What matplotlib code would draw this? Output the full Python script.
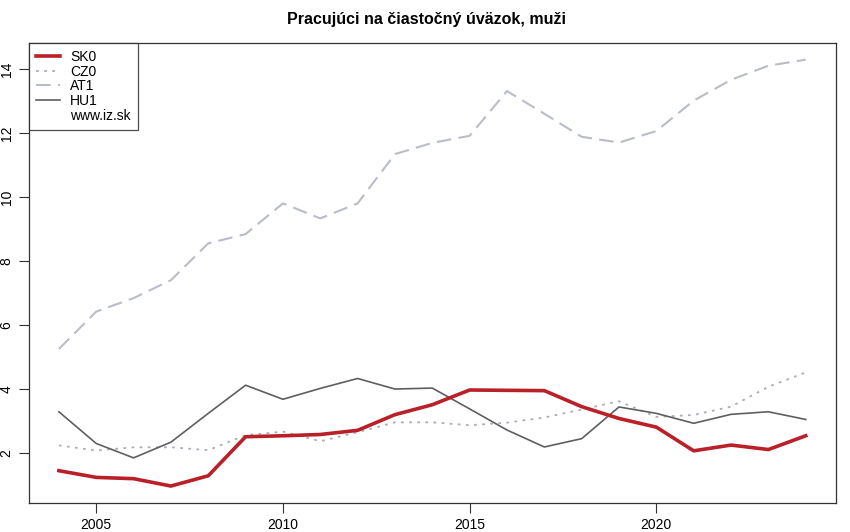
import matplotlib
matplotlib.use("Agg")
import matplotlib.pyplot as plt
from matplotlib.lines import Line2D

plt.rcParams['font.family'] = ['Liberation Sans', 'DejaVu Sans']

years = list(range(2004, 2025))
sk0 = [1.46, 1.25, 1.21, 0.98, 1.30, 2.52, 2.55, 2.59, 2.72, 3.21, 3.52, 3.98, 3.97, 3.96, 3.46, 3.09, 2.82, 2.08, 2.26, 2.12, 2.55]
cz0 = [2.25, 2.09, 2.19, 2.19, 2.10, 2.57, 2.68, 2.38, 2.66, 2.97, 2.97, 2.88, 2.96, 3.12, 3.37, 3.63, 3.14, 3.20, 3.46, 4.08, 4.53]
at1 = [5.26, 6.43, 6.85, 7.41, 8.56, 8.85, 9.81, 9.34, 9.81, 11.35, 11.70, 11.92, 13.32, 12.61, 11.89, 11.71, 12.07, 13.02, 13.67, 14.11, 14.30]
hu1 = [3.30, 2.31, 1.86, 2.35, 3.25, 4.13, 3.69, 4.03, 4.34, 4.01, 4.04, 3.39, 2.73, 2.20, 2.46, 3.45, 3.25, 2.94, 3.22, 3.30, 3.06]
series_names = ["SK0", "CZ0", "AT1", "HU1"]
xticks = [2005, 2010, 2015, 2020]
yticks = [2, 4, 6, 8, 10, 12, 14]
title = "Pracujúci na čiastočný úväzok, muži"
source = "www.iz.sk"

fig = plt.figure(figsize=(8.5, 5.32), dpi=100)
ax = fig.add_axes([29/850, 1-503/532, (835.6-29)/850, (503-43)/532])

ax.plot(years, at1, color="#B9BDC5", lw=1.5, dashes=(7, 3.5), label=series_names[2], zorder=2)
ax.plot(years, cz0, color="#A8AEB8", lw=1.3, dashes=(1.5, 3), label=series_names[1], zorder=3)
ax.plot(years, hu1, color="#5F5F5F", lw=1.2, label=series_names[3], zorder=4)
ax.plot(years, sk0, color="#BA2028", lw=2.6, label=series_names[0], zorder=5)

ax.set_xlim(2003.2, 2024.8)
ax.set_ylim(0.45, 14.82)
ax.set_xticks(xticks)
ax.set_yticks(yticks)
ax.set_xticklabels([str(t) for t in xticks], fontsize=10)
ax.set_yticklabels([str(t) for t in yticks], fontsize=10, rotation=90, va='center')
ax.tick_params(axis='both', length=7, width=0.8, color="#333333", pad=4)
for s in ax.spines.values():
    s.set_color("#333333")
    s.set_linewidth(0.9)

ax.set_title(title, fontsize=11.5, fontweight='bold', pad=14, x=0.493)

h = [Line2D([], [], color="#BA2028", lw=2.6),
     Line2D([], [], color="#A8AEB8", lw=1.3, dashes=(1.5, 3)),
     Line2D([], [], color="#B9BDC5", lw=1.5, dashes=(7, 3.5)),
     Line2D([], [], color="#5F5F5F", lw=1.2),
     Line2D([], [], color="none")]
leg = ax.legend(h, series_names + [source], loc='upper left', borderaxespad=0,
                fontsize=10, frameon=True, fancybox=False, handlelength=1.75,
                labelspacing=0.05, borderpad=0.5, handletextpad=0.7)
leg.get_frame().set_edgecolor("#222222")
leg.get_frame().set_linewidth(0.9)

fig.savefig("out.png", dpi=100)
